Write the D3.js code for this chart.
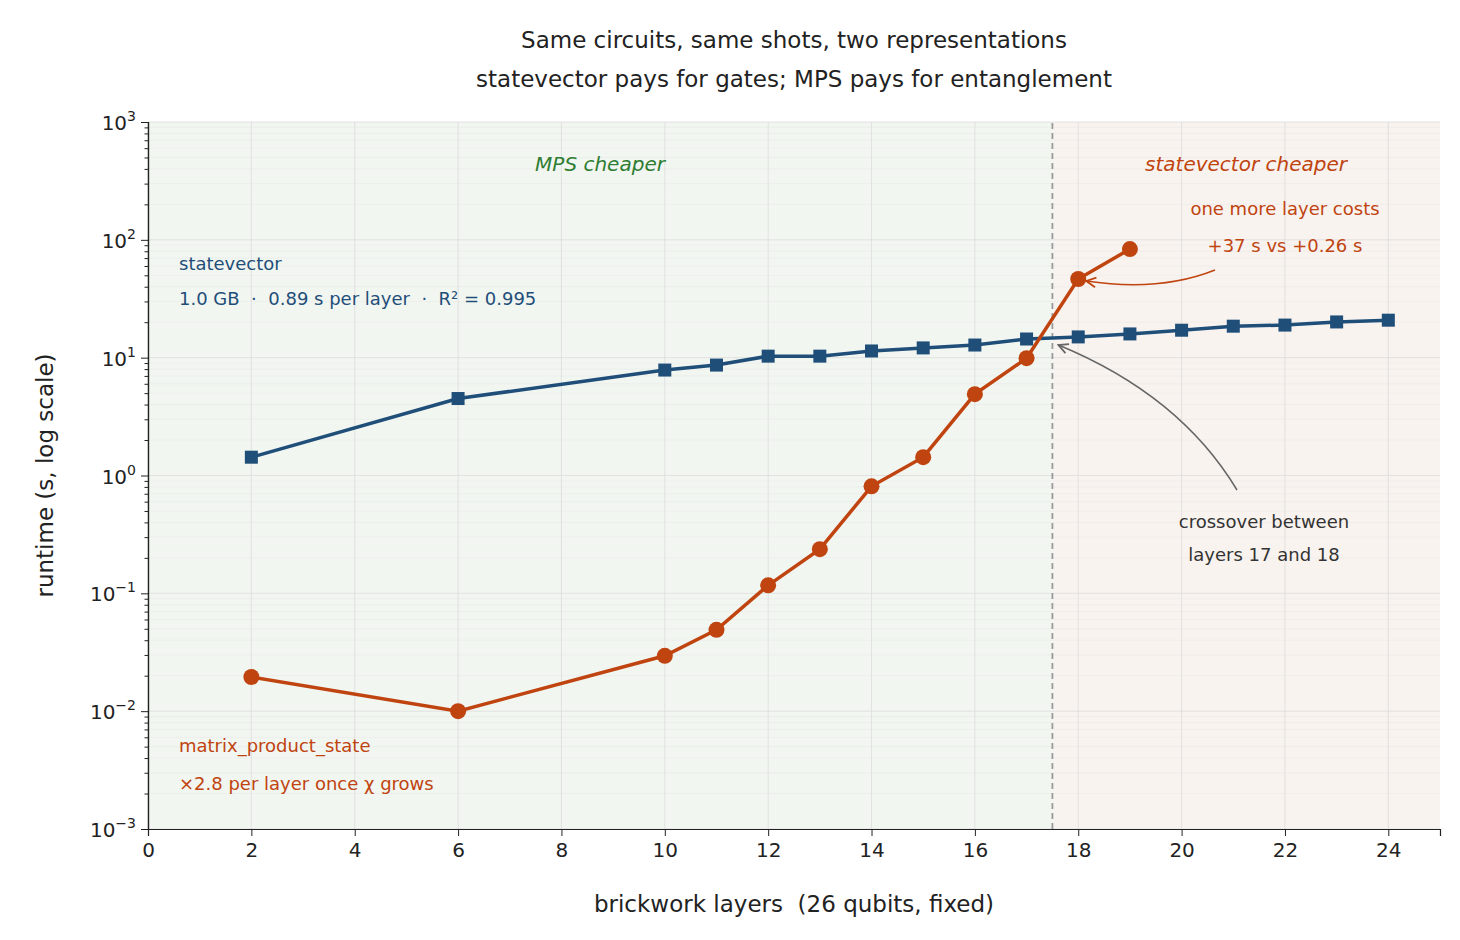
<!DOCTYPE html>
<html>
<head>
<script src="https://cdn.jsdelivr.net/npm/d3@7"></script>
<style>
  body { margin: 0; background: #fff; }
  text { font-family: "DejaVu Sans", sans-serif; white-space: pre; }
</style>
</head>
<body>
<div id="canvas"></div>
<script>
const layers = [2, 6, 10, 11, 12, 13, 14, 15, 16, 17, 18, 19, 20, 21, 22, 23, 24];
const svRuntime = [1.43, 4.5, 7.85, 8.65, 10.3, 10.3, 11.4, 12.1, 12.8, 14.4, 15.0, 15.9, 17.1, 18.5, 18.9, 20.1, 20.8];
const mpsLayers = [2, 6, 10, 11, 12, 13, 14, 15, 16, 17, 18, 19];
const mpsRuntime = [0.0195, 0.01, 0.0295, 0.049, 0.117, 0.237, 0.81, 1.43, 4.9, 9.9, 46.5, 83.5];
const xTicks = [0, 2, 4, 6, 8, 10, 12, 14, 16, 18, 20, 22, 24];
const yExps = [-3, -2, -1, 0, 1, 2, 3];
const crossover = 17.5;

const W = 1460, H = 940;
const m = { left: 148, right: 20, top: 122, bottom: 111 };
const blue = '#1f4e79', orange = '#c0440f';

const svg = d3.select('#canvas').append('svg').attr('width', W).attr('height', H);
const x = d3.scaleLinear().domain([0, 25]).range([m.left, W - m.right]);
const y = d3.scaleLog().domain([1e-3, 1e3]).range([H - m.bottom, m.top]);

// shaded regions
svg.append('rect').attr('x', x(0)).attr('y', y(1e3)).attr('width', x(crossover) - x(0))
  .attr('height', y(1e-3) - y(1e3)).attr('fill', '#f2f6f1');
svg.append('rect').attr('x', x(crossover)).attr('y', y(1e3)).attr('width', x(25) - x(crossover))
  .attr('height', y(1e-3) - y(1e3)).attr('fill', '#f9f3ef');

// grid
const minor = [];
yExps.slice(0, -1).forEach(e => { for (let k = 2; k < 10; k++) minor.push(k * Math.pow(10, e)); });
svg.append('g').selectAll('line').data(minor).enter().append('line')
  .attr('x1', x(0)).attr('x2', x(25)).attr('y1', d => y(d)).attr('y2', d => y(d))
  .attr('stroke', '#e6e6e6').attr('stroke-width', 0.5);
svg.append('g').selectAll('line').data(yExps.map(e => Math.pow(10, e))).enter().append('line')
  .attr('x1', x(0)).attr('x2', x(25)).attr('y1', d => y(d)).attr('y2', d => y(d))
  .attr('stroke', '#dcdcdc').attr('stroke-width', 0.8);
svg.append('g').selectAll('line').data(xTicks).enter().append('line')
  .attr('x1', d => x(d)).attr('x2', d => x(d)).attr('y1', y(1e-3)).attr('y2', y(1e3))
  .attr('stroke', '#dcdcdc').attr('stroke-width', 0.8);

svg.append('line').attr('x1', x(crossover)).attr('x2', x(crossover))
  .attr('y1', y(1e-3)).attr('y2', y(1e3)).attr('stroke', '#999').attr('stroke-width', 1.8)
  .attr('stroke-dasharray', '6,4');

// axes
const xAxis = svg.append('g').attr('transform', `translate(0,${y(1e-3)})`)
  .call(d3.axisBottom(x).tickValues(xTicks).tickSize(7).tickPadding(7));
xAxis.selectAll('text').style('font-size', '20px').attr('fill', '#222');
svg.append('g').attr('transform', `translate(${x(0)},0)`)
  .call(d3.axisLeft(y).tickValues(yExps.map(e => Math.pow(10, e))).tickSize(7).tickFormat(''));
svg.append('g').attr('transform', `translate(${x(0)},0)`)
  .call(d3.axisLeft(y).tickValues(minor).tickSize(3.5).tickFormat(''));
svg.selectAll('.tick line').attr('stroke', '#222');
svg.selectAll('.domain').attr('stroke', '#222').attr('stroke-width', 1.2);
yExps.forEach(e => {
  const t = svg.append('text').attr('x', x(0) - 12).attr('y', y(Math.pow(10, e)) + 8)
    .attr('text-anchor', 'end').style('font-size', '20px').attr('fill', '#222');
  t.append('tspan').text('10');
  t.append('tspan').attr('dy', -9).style('font-size', '14px').text(e < 0 ? '\u2212' + (-e) : e);
});

// lines
const line = d3.line().x(d => x(d[0])).y(d => y(d[1]));
const sv = layers.map((l, i) => [l, svRuntime[i]]);
const mps = mpsLayers.map((l, i) => [l, mpsRuntime[i]]);
svg.append('path').datum(sv).attr('d', line).attr('fill', 'none').attr('stroke', blue).attr('stroke-width', 3.5);
svg.append('g').selectAll('rect').data(sv).enter().append('rect')
  .attr('x', d => x(d[0]) - 6.5).attr('y', d => y(d[1]) - 6.5).attr('width', 13).attr('height', 13).attr('fill', blue);
svg.append('path').datum(mps).attr('d', line).attr('fill', 'none').attr('stroke', orange).attr('stroke-width', 3.5);
svg.append('g').selectAll('circle').data(mps).enter().append('circle')
  .attr('cx', d => x(d[0])).attr('cy', d => y(d[1])).attr('r', 8).attr('fill', orange);

// labels
const txt = (tx, ty, s, o) => svg.append('text').attr('x', tx).attr('y', ty).text(s)
  .style('font-size', (o.size || 20) + 'px').attr('fill', o.fill || '#222')
  .attr('text-anchor', o.anchor || 'start').attr('font-style', o.style || 'normal');
txt(794, 48, 'Same circuits, same shots, two representations', { size: 23 });
txt(794, 87, 'statevector pays for gates; MPS pays for entanglement', { size: 23 });
svg.selectAll('text').filter(function () { return this.getAttribute('y') < 100; }).attr('text-anchor', 'middle');
txt(x(12.5), 912, 'brickwork layers  (26 qubits, fixed)', { size: 23, anchor: 'middle' });
svg.append('text').attr('transform', `translate(45,${(y(1e3) + y(1e-3)) / 2}) rotate(-90)`)
  .attr('text-anchor', 'middle').style('font-size', '23px').attr('fill', '#222').attr('dy', 8)
  .text('runtime (s, log scale)');
txt(600, 171, 'MPS cheaper', { size: 20, fill: '#2e7d32', anchor: 'middle', style: 'italic' });
txt(1246, 171, 'statevector cheaper', { size: 20, fill: orange, anchor: 'middle', style: 'italic' });
txt(179, 270, 'statevector', { size: 18, fill: blue });
txt(179, 305, '1.0 GB  \u00b7  0.89 s per layer  \u00b7  R\u00b2 = 0.995', { size: 18, fill: blue });
txt(179, 752, 'matrix_product_state', { size: 18, fill: orange });
txt(179, 790, '\u00d72.8 per layer once \u03c7 grows', { size: 18, fill: orange });
txt(1285, 215, 'one more layer costs', { size: 18, fill: orange, anchor: 'middle' });
txt(1285, 252, '+37 s vs +0.26 s', { size: 18, fill: orange, anchor: 'middle' });
txt(1264, 528, 'crossover between', { size: 18, fill: '#333', anchor: 'middle' });
txt(1264, 561, 'layers 17 and 18', { size: 18, fill: '#333', anchor: 'middle' });

// arrows
const defs = svg.append('defs');
[['ao', orange], ['ag', '#666']].forEach(([id, c]) => {
  defs.append('marker').attr('id', id).attr('viewBox', '0 0 10 10').attr('refX', 9).attr('refY', 5)
    .attr('markerWidth', 8).attr('markerHeight', 8).attr('orient', 'auto-start-reverse')
    .append('path').attr('d', 'M1,1 L9,5 L1,9').attr('fill', 'none').attr('stroke', c).attr('stroke-width', 1.5);
});
svg.append('path').attr('d', `M1215,270 Q1160,292 ${x(18) + 8},${y(46.5) + 2}`)
  .attr('fill', 'none').attr('stroke', orange).attr('stroke-width', 1.5).attr('marker-end', 'url(#ao)');
svg.append('path').attr('d', `M1237,490 Q1180,395 ${x(17.5) + 6},${y(14.4) + 6}`)
  .attr('fill', 'none').attr('stroke', '#666').attr('stroke-width', 1.5).attr('marker-end', 'url(#ag)');
</script>
</body>
</html>
